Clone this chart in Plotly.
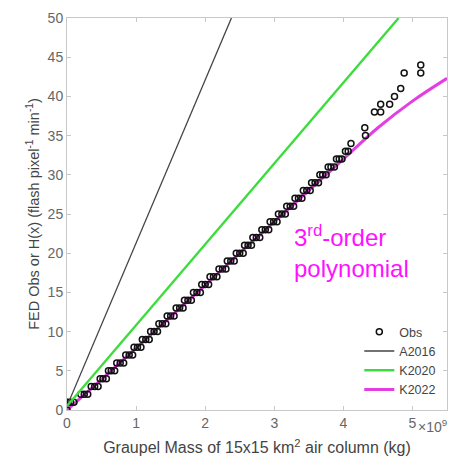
import plotly.graph_objects as go

# Graupel mass in units of 1e9 kg
obs_x = [0.0, 0.02, 0.05, 0.1, 0.2, 0.25, 0.3, 0.35, 0.4, 0.45, 0.48, 0.52, 0.57, 0.6, 0.64, 0.69,
         0.72, 0.77, 0.82, 0.85, 0.9, 0.95, 0.97, 1.02, 1.07, 1.09, 1.14, 1.19, 1.21, 1.26, 1.31,
         1.33, 1.38, 1.43, 1.45, 1.5, 1.55, 1.58, 1.63, 1.68, 1.7, 1.75, 1.8, 1.83, 1.88, 1.93,
         1.95, 2.0, 2.05, 2.07, 2.12, 2.17, 2.2, 2.25, 2.3, 2.32, 2.37, 2.42, 2.45, 2.5, 2.55,
         2.57, 2.62, 2.67, 2.69, 2.74, 2.79, 2.82, 2.87, 2.92, 2.94, 2.99, 3.04, 3.06, 3.11, 3.16,
         3.18, 3.23, 3.28, 3.3, 3.35, 3.4, 3.42, 3.47, 3.52, 3.54, 3.59, 3.64, 3.66, 3.7, 3.75,
         3.78, 3.82, 3.87, 3.9, 3.94, 3.98, 4.03, 4.07, 4.11, 4.32, 4.31, 4.45, 4.54, 4.54, 4.67,
         4.74, 4.83, 4.88, 5.12, 5.12]
obs_y = [0, 1, 1, 1, 2, 2, 2, 3, 3, 3, 4, 4, 4, 5, 5, 5,
         6, 6, 6, 7, 7, 7, 8, 8, 8, 9, 9, 9, 10, 10, 10,
         11, 11, 11, 12, 12, 12, 13, 13, 13, 14, 14, 14, 15, 15, 15,
         16, 16, 16, 17, 17, 17, 18, 18, 18, 19, 19, 19, 20, 20, 20,
         21, 21, 21, 22, 22, 22, 23, 23, 23, 24, 24, 24, 25, 25, 25,
         26, 26, 26, 27, 27, 27, 28, 28, 28, 29, 29, 29, 30, 30, 30,
         31, 31, 31, 32, 32, 32, 33, 33, 34, 35, 36, 38, 38, 39, 39,
         40, 41, 43, 43, 44]

a2016_x = [0.0, 2.38]
a2016_y = [0.5, 50.0]
k2020_x = [0.0, 4.8]
k2020_y = [0.5, 50.0]
k2022_x = [0.0, 0.5, 1.0, 1.5, 2.0, 2.5, 3.0, 3.5, 4.0, 4.5, 5.0, 5.5]
k2022_y = [0.0, 3.9, 7.9, 11.9, 15.9, 20.0, 24.0, 28.0, 32.0, 36.0, 39.4, 42.3]

x_ticks = [0, 1, 2, 3, 4, 5]
x_ticklabels = ["0", "1", "2", "3", "4", "5"]
y_ticks = [0, 5, 10, 15, 20, 25, 30, 35, 40, 45, 50]

FONT = "Liberation Sans, Arial, sans-serif"

fig = go.Figure()
fig.add_trace(go.Scatter(x=k2022_x, y=k2022_y, mode="lines", name="K2022",
                         line=dict(color="#e23ee2", width=3, shape="spline"),
                         legendrank=4))
fig.add_trace(go.Scatter(x=obs_x, y=obs_y, mode="markers", name="Obs",
                         marker=dict(symbol="circle-open", size=6, color="#111111",
                                     line=dict(width=1.5, color="#111111")),
                         legendrank=1))
fig.add_trace(go.Scatter(x=a2016_x, y=a2016_y, mode="lines", name="A2016",
                         line=dict(color="#444444", width=1.3), legendrank=2))
fig.add_trace(go.Scatter(x=k2020_x, y=k2020_y, mode="lines", name="K2020",
                         line=dict(color="#3ddc3d", width=2.4), legendrank=3))

fig.add_annotation(x=3.26, y=24.4, xref="x", yref="y", xanchor="left", yanchor="top",
                   align="left", showarrow=False,
                   text="3<sup>rd</sup>-order<br>polynomial",
                   font=dict(family=FONT, size=24, color="#ff11ff"))
fig.add_annotation(x=5.0, y=0, xref="x", yref="paper", xanchor="left", yanchor="top",
                   yshift=-5, xshift=4, showarrow=False, text="×10<sup>9</sup>",
                   font=dict(family=FONT, size=14, color="#666666"))

axis_common = dict(showgrid=False, zeroline=False, showline=True, linecolor="#c8c8c8",
                   linewidth=1, mirror="ticks", ticks="inside", ticklen=4,
                   tickcolor="#c8c8c8", tickfont=dict(family=FONT, size=14, color="#666666"))

fig.update_layout(
    width=458, height=465,
    margin=dict(l=67, r=10, t=11, b=55),
    paper_bgcolor="white", plot_bgcolor="white",
    showlegend=True,
    legend=dict(x=0.985, y=0.015, xanchor="right", yanchor="bottom",
                bgcolor="rgba(0,0,0,0)", borderwidth=0,
                font=dict(family=FONT, size=12.5, color="#444444"),
                tracegroupgap=0, itemwidth=30),
    xaxis=dict(range=[0, 5.5], tickvals=x_ticks, ticktext=x_ticklabels,
               title=dict(text="Graupel Mass of 15x15 km<sup>2</sup> air column (kg)",
                          font=dict(family=FONT, size=16, color="#444444"), standoff=12),
               **axis_common),
    yaxis=dict(range=[0, 50], tickvals=y_ticks,
               title=dict(text="FED Obs or H(x) (flash pixel<sup>-1</sup> min<sup>-1</sup>)",
                          font=dict(family=FONT, size=14.5, color="#444444"), standoff=4),
               **axis_common),
)

fig.write_html("out.html")
